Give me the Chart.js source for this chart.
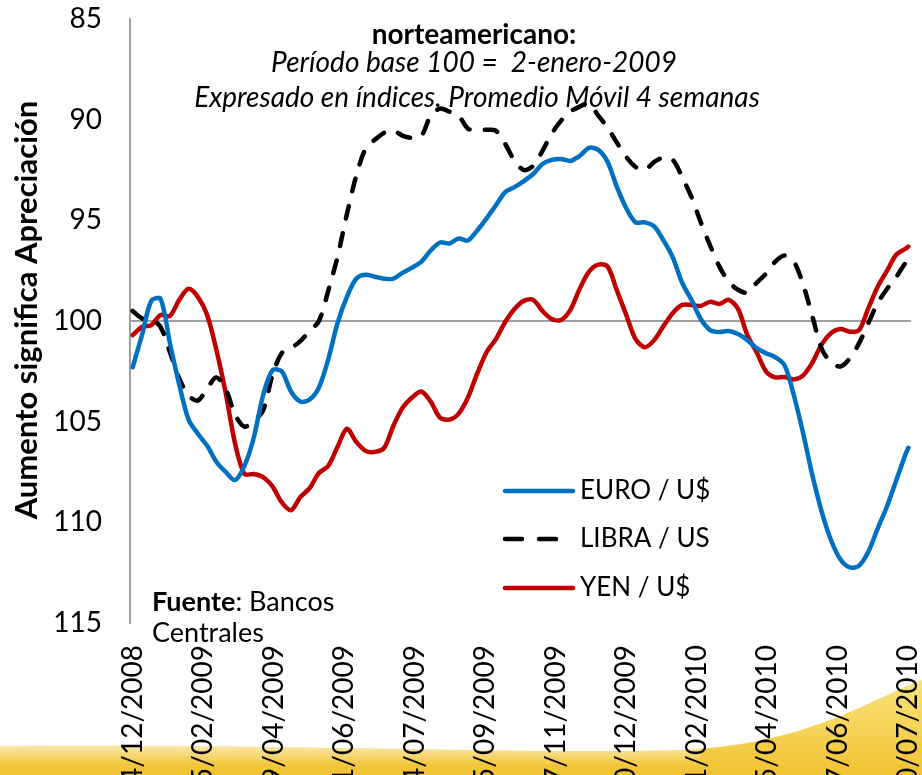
<!DOCTYPE html>
<html>
<head>
<meta charset="utf-8">
<script src="https://cdn.jsdelivr.net/npm/chart.js@4.4.1/dist/chart.umd.min.js"></script>
<style>
    html, body { margin: 0; padding: 0; background: #fff; }
    #wrap { width: 922px; height: 775px; }
</style>
</head>
<body>
<div id="wrap"><canvas id="chart" width="922" height="775"></canvas></div>
<script>
// axis labels every 53 days, starting 24/12/2008
const tickLabels = ["24/12/2008", "15/02/2009", "09/04/2009", "01/06/2009", "24/07/2009", "15/09/2009",
    "07/11/2009", "30/12/2009", "21/02/2010", "15/04/2010", "07/06/2010", "30/07/2010"];
const tickDays = [0, 53, 106, 159, 212, 265, 318, 371, 424, 477, 530, 583];

// weekly readings (days since 24/12/2008), last one is 30/07/2010
const obsDays = [];
for (let d = 0; d <= 581; d += 7) obsDays.push(d);
obsDays.push(583);

const seriesNames = ["EURO / U$", "LIBRA / US", "YEN / U$"];

const euroValues = [
    102.3, 100.7, 99.0, 98.9, 101.1, 103.15, 104.9, 105.6, 106.2, 107.0,
    107.5, 107.9, 107.2, 105.8, 103.7, 102.45, 102.5, 103.5, 104.0, 103.9,
    103.3, 101.9, 100.1, 98.8, 97.9, 97.7, 97.8, 97.9, 97.9, 97.6,
    97.35, 97.05, 96.5, 96.1, 96.15, 95.9, 96.0, 95.5, 94.9, 94.25,
    93.6, 93.35, 93.05, 92.7, 92.2, 92.0, 91.95, 92.05, 91.8, 91.4,
    91.5, 92.1, 93.35, 94.4, 95.1, 95.1, 95.3, 96.0, 96.85, 98.1,
    98.95, 99.9, 100.45, 100.55, 100.5, 100.65, 100.95, 101.35, 101.6, 101.8,
    102.2, 103.7, 105.6, 107.7, 109.5, 110.9, 111.85, 112.24, 112.15, 111.45,
    110.3, 109.2, 107.9, 106.6, 106.3
];

const libraValues = [
    99.5, 99.87, 99.93, 100.3, 101.55, 102.85, 103.7, 103.95, 103.35, 102.8,
    103.4, 104.65, 105.25, 104.95, 104.45, 102.7, 101.6, 101.35, 101.0, 100.5,
    100.0, 98.5, 96.8, 94.7, 92.8, 91.45, 91.0, 90.65, 90.55, 90.8,
    90.9, 90.8, 89.8, 89.45, 89.6, 89.8, 90.45, 90.5, 90.5, 90.55,
    91.2, 92.05, 92.5, 92.3, 91.55, 90.7, 90.05, 89.6, 89.35, 89.2,
    89.8, 90.4, 91.15, 91.85, 92.35, 92.5, 92.1, 91.88, 92.0, 92.85,
    93.85, 95.1, 96.25, 97.3, 98.05, 98.45, 98.6, 98.1, 97.65, 97.05,
    96.75, 97.05, 98.2, 99.8, 101.4, 102.05, 102.26, 101.85, 101.1, 100.1,
    99.1, 98.4, 97.8, 97.1, 97.0
];

const yenValues = [
    100.7, 100.3, 100.2, 99.7, 99.75, 98.95, 98.4, 98.8, 99.7, 101.45,
    103.6, 106.1, 107.6, 107.6, 107.75, 108.2, 109.0, 109.4, 108.75, 108.3,
    107.55, 107.2, 106.25, 105.35, 106.0, 106.45, 106.5, 106.3, 105.2, 104.3,
    103.8, 103.5, 104.0, 104.8, 104.9, 104.6, 103.8, 102.6, 101.55, 100.9,
    100.05, 99.4, 99.0, 98.95, 99.5, 99.9, 99.95, 99.45, 98.4, 97.55,
    97.2, 97.3, 98.5, 99.7, 100.9, 101.3, 100.95, 100.25, 99.6, 99.2,
    99.2, 99.25, 99.05, 99.15, 98.95, 99.4, 100.7, 101.55, 102.5, 102.8,
    102.78, 102.9, 102.7, 102.05, 101.15, 100.6, 100.4, 100.53, 100.45, 99.35,
    98.3, 97.5, 96.7, 96.4, 96.3
];

const colors = ["#0070C0", "#000000", "#C00000"];
const FONT = "Lato, 'Open Sans', sans-serif";

const toPoints = (values) => values.map((v, i) => ({ x: obsDays[i], y: v }));

// yellow swoosh at the bottom of the slide
const bandPlugin = {
    id: "band",
    beforeDraw(chart) {
        const ctx = chart.ctx;
        ctx.save();
        const g = ctx.createLinearGradient(0, 680, 0, 775);
        g.addColorStop(0, "#f9e27a");
        g.addColorStop(0.5, "#f6d458");
        g.addColorStop(1, "#f1c232");
        ctx.beginPath();
        ctx.moveTo(0, 746);
        ctx.bezierCurveTo(300, 743, 620, 758, 720, 747);
        ctx.bezierCurveTo(820, 735, 870, 700, 922, 680);
        ctx.lineTo(922, 775);
        ctx.lineTo(0, 775);
        ctx.closePath();
        ctx.fillStyle = g;
        ctx.fill();
        // soft white fade on the band's upper edge
        const w = ctx.createLinearGradient(0, 738, 0, 765);
        w.addColorStop(0, "rgba(255,255,255,0.75)");
        w.addColorStop(1, "rgba(255,255,255,0)");
        ctx.fillStyle = w;
        ctx.fillRect(0, 738, 700, 27);
        ctx.restore();
    }
};

const textPlugin = {
    id: "texts",
    beforeDatasetsDraw(chart) {
        const ctx = chart.ctx;
        ctx.save();
        ctx.fillStyle = "#000";
        ctx.textAlign = "center";
        ctx.textBaseline = "middle";

        ctx.font = "bold 28px " + FONT;
        ctx.fillText("norteamericano:", 474, 35);
        ctx.font = "italic 28px " + FONT;
        ctx.fillText("Período base 100 =  2-enero-2009", 474, 63);
        ctx.fillText("Expresado en índices. Promedio Móvil 4 semanas", 477, 98);

        // y axis title
        ctx.save();
        ctx.translate(27, 310);
        ctx.rotate(-Math.PI / 2);
        ctx.font = "bold 31px " + FONT;
        ctx.fillText("Aumento significa Apreciación", 0, 0);
        ctx.restore();

        // source note
        ctx.textAlign = "left";
        ctx.font = "bold 27px " + FONT;
        ctx.fillText("Fuente", 152, 602);
        const w = ctx.measureText("Fuente").width;
        ctx.font = "27px " + FONT;
        ctx.fillText(": Bancos", 152 + w, 602);
        ctx.fillText("Centrales", 152, 633);

        // legend
        const rows = [491, 539, 588];
        ctx.font = "26px " + FONT;
        seriesNames.forEach((name, i) => {
            ctx.beginPath();
            ctx.lineWidth = 4.5;
            ctx.lineCap = "round";
            ctx.strokeStyle = colors[i];
            ctx.setLineDash(i === 1 ? [17, 17] : []);
            ctx.moveTo(505, rows[i]);
            ctx.lineTo(573, rows[i]);
            ctx.stroke();
            ctx.setLineDash([]);
            ctx.fillText(name, 580, rows[i]);
        });
        ctx.restore();
    }
};

const datasets = [euroValues, libraValues, yenValues].map((vals, i) => ({
    label: seriesNames[i],
    data: toPoints(vals),
    borderColor: colors[i],
    borderWidth: 4.5,
    borderDash: i === 1 ? [13, 15] : [],
    borderCapStyle: "round",
    borderJoinStyle: "round",
    pointRadius: 0,
    tension: 0.3,
    fill: false,
}));

new Chart(document.getElementById("chart"), {
    type: "line",
    data: { datasets },
    options: {
        responsive: false,
        animation: false,
        layout: { padding: { top: 19, right: 11, left: 0, bottom: 0 } },
        plugins: {
            legend: { display: false },
            tooltip: { enabled: false },
        },
        scales: {
            x: {
                type: "linear",
                min: -2,
                max: 585,
                afterFit: (scale) => {
                    scale.height = 152;
                    scale.paddingLeft = 0;
                    scale.paddingRight = 0;
                },
                afterBuildTicks: (scale) => {
                    scale.ticks = tickDays.map(v => ({ value: v }));
                },
                grid: { display: false, drawTicks: false },
                border: { display: false },
                ticks: {
                    autoSkip: false,
                    minRotation: 90,
                    maxRotation: 90,
                    padding: 22,
                    color: "#000",
                    font: { family: FONT, size: 28 },
                    callback: (value, index) => tickLabels[index],
                },
            },
            y: {
                min: 85,
                max: 115,
                reverse: true,
                afterFit: (scale) => {
                    scale.width = 130;
                    scale.paddingTop = 0;
                    scale.paddingBottom = 0;
                },
                grid: {
                    drawTicks: false,
                    lineWidth: 2,
                    color: (c) => (c.tick && c.tick.value === 100 ? "#a0a0a0" : "rgba(0,0,0,0)"),
                },
                border: { display: true, color: "#a0a0a0", width: 2 },
                ticks: {
                    stepSize: 5,
                    padding: 28,
                    color: "#000",
                    font: { family: FONT, size: 28 },
                },
            },
        },
    },
    plugins: [bandPlugin, textPlugin],
});
</script>
</body>
</html>
